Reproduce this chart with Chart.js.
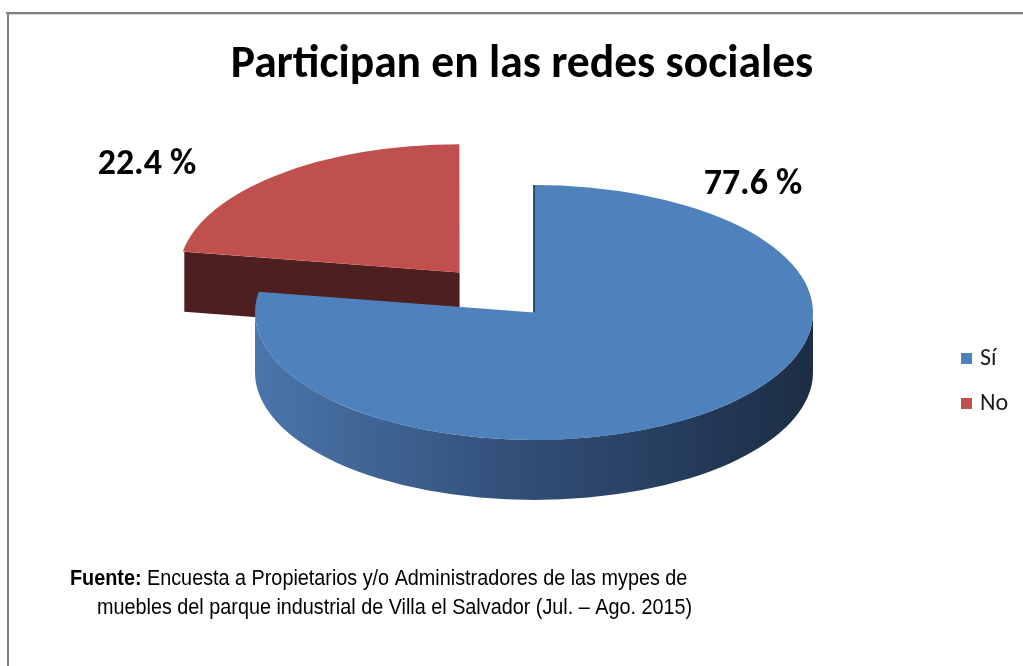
<!DOCTYPE html>
<html>
<head>
<meta charset="utf-8">
<script src="https://cdn.jsdelivr.net/npm/chart.js@4.4.1/dist/chart.umd.min.js"></script>
<style>
  html, body { margin: 0; padding: 0; background: #fff; }
  #wrap { position: relative; width: 1023px; height: 666px; }
</style>
</head>
<body>
<div id="wrap"><canvas id="chart" width="1023" height="666"></canvas></div>
<script>
// datos del gráfico
const categorias = ['Sí', 'No'];
const porcentajes = [77.6, 22.4];
const colores = ['#4F81BD', '#C0504D'];
const separacion = [0, 460]; // offset de Chart.js (se aplica /4)

const titulo = 'Participan en las redes sociales';
const fuenteNegrita = 'Fuente:';
const fuenteLinea1 = ' Encuesta a Propietarios y/o Administradores de las mypes de';
const fuenteLinea2 = 'muebles del parque industrial de Villa el Salvador (Jul. – Ago. 2015)';

// posiciones de las etiquetas de porcentaje (centro del texto)
const posEtiquetas = [[753, 185], [147, 165]];

const FUENTE_TITULO = 'Carlito, Calibri, Lato, sans-serif';
const FUENTE_NOTA = '"Liberation Sans", Arial, sans-serif';
const APLASTADO = 0.457;   // escala vertical del disco
const GROSOR = 60;         // alto del lateral en px

function lateral(i, x0, x1, ctx) {
    if (i === 0) {
        const g = ctx.createLinearGradient(x0, 0, x1, 0);
        g.addColorStop(0, '#4a76ab');
        g.addColorStop(0.45, '#33507a');
        g.addColorStop(1, '#1c2d45');
        return g;
    }
    return '#4E1F1F';
}

// efecto 3D: se aplasta el pastel y se dibujan los laterales
const pastel3d = {
    id: 'pastel3d',
    beforeDatasetsDraw(chart) {
        const ctx = chart.ctx;
        const arcs = chart.getDatasetMeta(0).data;
        const cy = arcs[0].y;
        const D = GROSOR / APLASTADO;
        ctx.save();
        ctx.translate(0, cy);
        ctx.scale(1, APLASTADO);
        ctx.translate(0, -cy);

        for (let i = arcs.length - 1; i >= 0; i--) {
            const a = arcs[i];
            const off = (a.options.offset || 0) / 4;
            const mid = (a.startAngle + a.endAngle) / 2;
            const ox = a.x + Math.cos(mid) * off;
            const oy = a.y + Math.sin(mid) * off;
            const r = a.outerRadius;
            const s = a.startAngle, e = a.endAngle;

            // caras radiales
            [[s, s - Math.PI / 2], [e, e + Math.PI / 2]].forEach(([ang, normal]) => {
                if (Math.sin(normal) <= 0.02) return;
                const px = ox + Math.cos(ang) * r, py = oy + Math.sin(ang) * r;
                ctx.beginPath();
                ctx.moveTo(ox, oy);
                ctx.lineTo(px, py);
                ctx.lineTo(px, py + D);
                ctx.lineTo(ox, oy + D);
                ctx.closePath();
                ctx.fillStyle = i === 0 ? '#2a4264' : '#4E1F1F';
                ctx.fill();
            });

            // pared exterior visible (mitad delantera)
            for (let k = -1; k <= 1; k++) {
                const lo = Math.max(s, 2 * Math.PI * k);
                const hi = Math.min(e, 2 * Math.PI * k + Math.PI);
                if (hi <= lo) continue;
                ctx.beginPath();
                ctx.arc(ox, oy, r, lo, hi);
                ctx.lineTo(ox + Math.cos(hi) * r, oy + Math.sin(hi) * r + D);
                ctx.arc(ox, oy + D, r, hi, lo, true);
                ctx.closePath();
                ctx.fillStyle = lateral(i, ox - r, ox + r, ctx);
                ctx.fill();
            }
        }
    },
    afterDatasetsDraw(chart) {
        const ctx = chart.ctx;
        // borde oscuro del corte vertical de la porción azul
        const a = chart.getDatasetMeta(0).data[0];
        ctx.beginPath();
        ctx.moveTo(a.x, a.y);
        ctx.lineTo(a.x + Math.cos(a.startAngle) * a.outerRadius, a.y + Math.sin(a.startAngle) * a.outerRadius);
        ctx.restore();
        ctx.save();
        ctx.strokeStyle = 'rgba(30,45,70,0.8)';
        ctx.lineWidth = 2;
        ctx.stroke();
        ctx.restore();
    }
};

// textos, leyenda y marco
const textos = {
    id: 'textos',
    beforeDraw(chart) {
        const ctx = chart.ctx;
        ctx.save();
        ctx.fillStyle = '#fff';
        ctx.fillRect(0, 0, chart.width, chart.height);
        ctx.fillStyle = '#808080';
        ctx.fillRect(6, 12, chart.width - 6, 2);
        ctx.fillRect(7, 12, 2, chart.height - 12);
        ctx.fillStyle = '#d9d9d9';
        ctx.fillRect(9, 14, chart.width - 9, 1);
        ctx.restore();
    },
    afterDraw(chart) {
        const ctx = chart.ctx;
        ctx.save();
        ctx.fillStyle = '#000';

        ctx.font = 'bold 46px ' + FUENTE_TITULO;
        ctx.textAlign = 'center';
        ctx.textBaseline = 'alphabetic';
        ctx.save();
        ctx.translate(522, 77);
        ctx.scale(0.99, 1);
        ctx.fillText(titulo, 0, 0);
        ctx.restore();

        ctx.font = 'bold 36px ' + FUENTE_TITULO;
        ctx.textBaseline = 'middle';
        porcentajes.forEach((v, i) => {
            ctx.fillText(v.toFixed(1) + ' %', posEtiquetas[i][0], posEtiquetas[i][1]);
        });

        // leyenda
        ctx.font = '24px ' + FUENTE_TITULO;
        ctx.textAlign = 'left';
        categorias.forEach((c, i) => {
            const y = 358 + i * 45;
            ctx.fillStyle = colores[i];
            ctx.fillRect(961, y - 5, 11, 11);
            ctx.fillStyle = '#1a1a1a';
            ctx.fillText(c, 980, y + 1);
        });

        // fuente (Arial Narrow simulada)
        ctx.fillStyle = '#000';
        ctx.textBaseline = 'alphabetic';
        ctx.save();
        ctx.translate(70, 585);
        ctx.scale(0.9, 1);
        ctx.font = 'bold 22px ' + FUENTE_NOTA;
        ctx.fillText(fuenteNegrita, 0, 0);
        const w = ctx.measureText(fuenteNegrita).width;
        ctx.font = '22px ' + FUENTE_NOTA;
        ctx.fillText(fuenteLinea1, w, 0);
        ctx.restore();
        ctx.save();
        ctx.translate(97, 614);
        ctx.scale(0.9, 1);
        ctx.font = '22px ' + FUENTE_NOTA;
        ctx.fillText(fuenteLinea2, 0, 0);
        ctx.restore();
        ctx.restore();
    }
};

new Chart(document.getElementById('chart'), {
    type: 'pie',
    data: {
        labels: categorias,
        datasets: [{
            data: porcentajes,
            backgroundColor: colores,
            borderWidth: 0,
            offset: separacion,
            radius: 279,
            clip: false
        }]
    },
    options: {
        responsive: false,
        animation: false,
        events: [],
        layout: {
            padding: { left: 134, right: 89, top: 13, bottom: 54 }
        },
        plugins: {
            legend: { display: false },
            title: { display: false },
            tooltip: { enabled: false }
        }
    },
    plugins: [pastel3d, textos]
});
</script>
</body>
</html>
